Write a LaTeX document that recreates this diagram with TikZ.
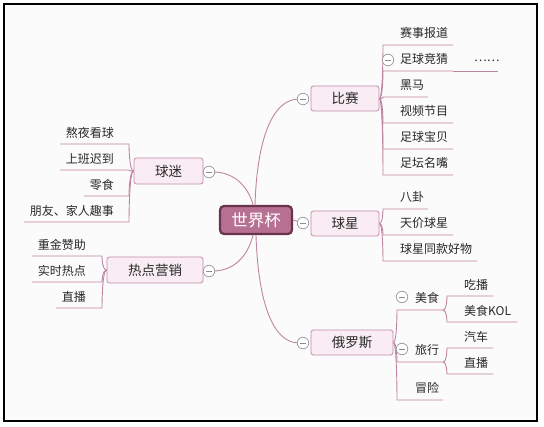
\documentclass[tikz,border=0pt]{standalone}
\usepackage{fontspec}
\setmainfont{Noto Sans CJK SC}
\usetikzlibrary{calc}
\definecolor{linec}{RGB}{192,132,163}
\definecolor{boxfill}{RGB}{249,237,243}
\definecolor{boxdraw}{RGB}{196,140,170}
\definecolor{rootfill}{RGB}{183,112,146}
\definecolor{rootdraw}{RGB}{104,52,78}
\definecolor{bgc}{RGB}{251,251,251}
\definecolor{txt}{RGB}{40,40,40}
\tikzset{
  conn/.style={draw=linec, line width=0.9pt},
  topic/.style={draw=boxdraw, fill=boxfill, rounded corners=2.5pt, line width=0.8pt, inner sep=0pt, text=txt, font=\fontsize{13.5}{16}\selectfont},
  rootbox/.style={draw=rootdraw, fill=rootfill, rounded corners=4pt, line width=2.2pt, inner sep=0pt, text=white, font=\fontsize{16.5}{19}\selectfont, minimum width=72pt, minimum height=28pt},
  leaf/.style={inner sep=0pt, text=txt, font=\fontsize{12}{14}\selectfont},
  fold/.style={circle, draw=gray!80, fill=white, line width=0.7pt, minimum size=11.5pt, inner sep=0pt,
    path picture={\draw[gray!90, line width=0.7pt] ([xshift=-3.4pt]path picture bounding box.center) -- ([xshift=3.4pt]path picture bounding box.center);}}
}
\begin{document}
\begin{tikzpicture}[x=1pt,y=-1pt]
\useasboundingbox (0,0) rectangle (544,427);
\fill[white] (0,0) rectangle (544,427);
\draw[black, line width=1.3pt, fill=bgc] (4,4) rectangle (537,421);

% root and main topics
\node[rootbox] (root) at (256,220) {世界杯};
\node[topic, minimum width=68pt, minimum height=25pt] (bs) at (345,98.5) {比赛};
\node[topic, minimum width=68pt, minimum height=25pt] (qx) at (345,223.5) {球星};
\node[topic, minimum width=82pt, minimum height=25pt] (els) at (352,342.5) {俄罗斯};
\node[topic, minimum width=69pt, minimum height=26pt] (qm) at (168.5,171) {球迷};
\node[topic, minimum width=96pt, minimum height=26pt] (rd) at (155,270) {热点营销};

% connectors root -> topics
\draw[conn] ($(root.north)+(-1,0)$) .. controls (257,140) and (272,99) .. (299,99);
\draw[conn] ($(root.north)+(-3,0)$) .. controls (248,186) and (234,172) .. (213,172);
\draw[conn] ($(root.south)+(-3,0)$) .. controls (248,256) and (234,271) .. (213,271);
\draw[conn] ($(root.south)+(0,0)$) .. controls (258,300) and (272,343) .. (299,343);
\draw[conn] (root.east) -- (303,223);

% fold circles
\node[fold] (fbs) at (303,99) {};
\node[fold] (fqx) at (303,223) {};
\node[fold] (fels) at (303,343) {};
\node[fold] (fqm) at (209,172) {};
\node[fold] (frd) at (209,271) {};

% 比赛 children
\foreach \n/\t/\y/\e in {b1/赛事报道/45/453, b2/足球竞猜/71/453, b3/黑马/97/428, b4/视频节目/123/453, b5/足球宝贝/149/453, b6/足坛名嘴/175/453}{
  \node[leaf, anchor=west] (\n) at (400,\y-12) {\t};
  \coordinate (\n l) at (383,\y);
  \coordinate (\n r) at (\e,\y);
  \draw[conn] (bs.east) .. controls (383,99) and (383,\y) .. (\n l) -- (\n r);
}
\node[leaf, anchor=west] (b2x) at (474,61) {……};
\coordinate (b2xr) at (498,71);
\draw[conn] (b2r) -- (b2xr);
\node[fold] (fb2) at (388,60) {};

% 球星 children
\foreach \n/\t/\y/\e in {s1/八卦/209/428, s2/天价球星/235/453, s3/球星同款好物/261/477}{
  \node[leaf, anchor=west] (\n) at (400,\y-12) {\t};
  \coordinate (\n l) at (383,\y);
  \coordinate (\n r) at (\e,\y);
  \draw[conn] (qx.east) .. controls (383,223.5) and (383,\y) .. (\n l) -- (\n r);
}

% 俄罗斯 children
\foreach \n/\t/\y in {r1/美食/310, r2/旅行/362, r3/冒险/400}{
  \node[leaf, anchor=west] (\n) at (415,\y-12) {\t};
  \coordinate (\n l) at (397,\y);
  \coordinate (\n r) at (443,\y);
  \draw[conn] (els.east) .. controls (397,342.5) and (397,\y) .. (\n l) -- (\n r);
}
\node[fold] (fr1) at (402,297) {};
\node[fold] (fr2) at (402,349) {};

% 美食 children
\foreach \n/\t/\y/\e in {r11/吃播/296/493, r12/美食KOL/322/517}{
  \node[leaf, anchor=west] (\n) at (464,\y-11) {\t};
  \coordinate (\n l) at (447,\y);
  \coordinate (\n r) at (\e,\y);
  \draw[conn] (r1r) .. controls (447,310) and (447,\y) .. (\n l) -- (\n r);
}
% 旅行 children
\foreach \n/\t/\y/\e in {r21/汽车/348/493, r22/直播/374/493}{
  \node[leaf, anchor=west] (\n) at (464,\y-11) {\t};
  \coordinate (\n l) at (447,\y);
  \coordinate (\n r) at (\e,\y);
  \draw[conn] (r2r) .. controls (447,362) and (447,\y) .. (\n l) -- (\n r);
}

% 球迷 children
\foreach \n/\t/\y/\s in {m1/熬夜看球/144/60, m2/上班迟到/170/60, m3/零食/196/84, m4/朋友、家人趣事/222/24}{
  \node[leaf, anchor=east] (\n) at (114,\y-11) {\t};
  \coordinate (\n r) at (129,\y);
  \coordinate (\n l) at (\s,\y);
  \draw[conn] (qm.west) .. controls (129,171) and (129,\y) .. (\n r) -- (\n l);
}

% 热点营销 children
\foreach \n/\t/\y/\s in {h1/重金赞助/256/32, h2/实时热点/282/32, h3/直播/308/56}{
  \node[leaf, anchor=east] (\n) at (86,\y-11) {\t};
  \coordinate (\n r) at (102,\y);
  \coordinate (\n l) at (\s,\y);
  \draw[conn] (rd.west) .. controls (102,270) and (102,\y) .. (\n r) -- (\n l);
}
\end{tikzpicture}
\end{document}
